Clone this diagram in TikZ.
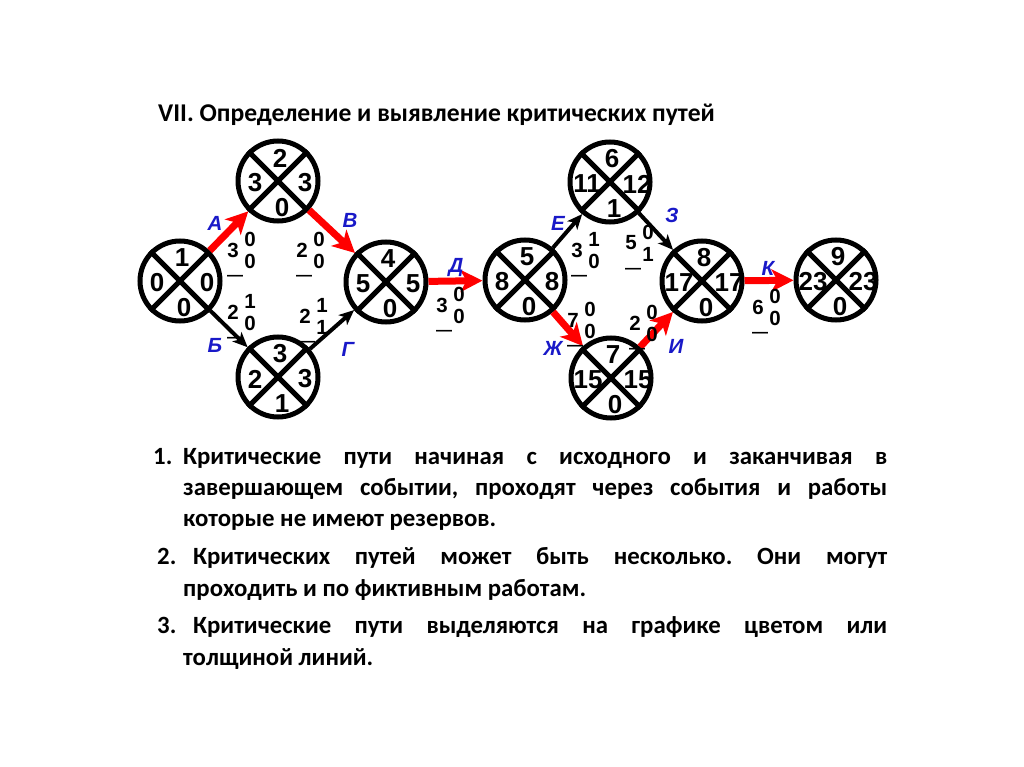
\documentclass[tikz,border=0pt]{standalone}
\usepackage{fontspec}
\setmainfont{Carlito}
\newfontfamily\arialfont{Liberation Sans}
\usetikzlibrary{arrows.meta}
\frenchspacing

\definecolor{azul}{RGB}{25,25,200}
\definecolor{rojo}{RGB}{255,0,0}

\tikzset{
  evento/.style={circle, draw, line width=5pt, minimum size=80pt, inner sep=0pt},
  cifra/.style={font=\arialfont\bfseries\fontsize{26}{26}\selectfont, inner sep=0pt},
  dur/.style={font=\arialfont\bfseries\fontsize{20.5}{20.5}\selectfont, inner sep=0pt},
  guion/.style={font=\arialfont\bfseries\fontsize{16}{16}\selectfont, inner sep=0pt, anchor=base},
  etiq/.style={font=\arialfont\bfseries\itshape\fontsize{20.5}{20.5}\selectfont, text=azul, inner sep=0pt},
  critico/.style={draw=rojo, line width=7pt, -{Stealth[length=22pt,width=22pt,inset=6pt]}},
  normal/.style={draw, line width=4pt, -{Stealth[length=15pt,width=13pt,inset=4pt]}},
  linea/.style={font=\bfseries\fontsize{24.8}{24.8}\selectfont, anchor=base west, inner sep=0pt}
}

% suceso: nombre, x, y, arriba, izquierda, derecha, abajo
\newcommand{\suceso}[7]{%
  \node[evento] (#1) at (#2,#3) {};
  \draw[line width=5pt] (#1.north east) -- (#1.south west);
  \draw[line width=5pt] (#1.north west) -- (#1.south east);
  \node[cifra] (#1s) at (#2+2,#3-23) {#4};
  \node[cifra] (#1i) at (#2-23,#3+2) {#5};
  \node[cifra] (#1d) at (#2+27,#3+2) {#6};
  \node[cifra] (#1b) at (#2+4,#3+27) {#7};
}

% trabajo: nombre, x, y, duracion, reserva 1, reserva 2
\newcommand{\trabajo}[6]{%
  \node[dur] (t#1) at (#2,#3) {#4};
  \node[dur] (r#1a) at (#2+17,#3-11) {#5};
  \node[dur] (r#1b) at (#2+17,#3+11) {#6};
  \node[guion] (g#1) at (#2+2,#3+30) {—};
}

\begin{document}
\begin{tikzpicture}[x=1pt, y=-1pt]
    \fill[white] (0,0) rectangle (1024,767);
    \useasboundingbox (0,0) rectangle (1024,767);

    % Titulo
    \node[linea, font=\bfseries\fontsize{25.6}{25.6}\selectfont] (titulo) at (158,122) {VII. Определение и выявление критических путей};

    % Sucesos
    \suceso{n1}{180}{281}{1}{0}{0}{0}
    \suceso{n2}{278}{181}{2}{3}{3}{0}
    \suceso{n3}{278}{377}{3}{2}{3}{1}
    \suceso{n4}{386}{282}{4}{5}{5}{0}
    \suceso{n5}{525}{280}{5}{8}{8}{0}
    \suceso{n6}{610}{182}{6}{11}{12}{1}
    \suceso{n7}{611}{378}{7}{15}{15}{0}
    \suceso{n8}{702}{281}{8}{17}{17}{0}
    \suceso{n9}{836}{280}{9}{23}{23}{0}

    % Trabajos criticos
    \draw[critico] (n1) -- (n2);
    \draw[critico] (n2) -- (n4);
    \draw[critico] (n4) -- (n5);
    \draw[critico] (n5) -- (n7);
    \draw[critico] (n7) -- (n8);
    \draw[critico] (n8) -- (n9);

    % Trabajos no criticos
    \draw[normal] (n1) -- (n3);
    \draw[normal] (n3) -- (n4);
    \draw[normal] (n5) -- (n6);
    \draw[normal] (n6) -- (n8);

    % Letras de los trabajos
    \node[etiq] (la) at (215,223) {А};
    \node[etiq] (lv) at (350,220) {В};
    \node[etiq] (lb) at (215,345) {Б};
    \node[etiq] (lg) at (348,349) {Г};
    \node[etiq] (ld) at (456,267) {Д};
    \node[etiq] (le) at (558,223) {Е};
    \node[etiq] (lz) at (672,215) {З};
    \node[etiq] (lzh) at (553,348) {Ж};
    \node[etiq] (li) at (676,346) {И};
    \node[etiq] (lk) at (768,268) {К};

    % Duraciones y reservas
    \trabajo{a}{233}{250}{3}{0}{0}
    \trabajo{v}{302}{250}{2}{0}{0}
    \trabajo{b}{233}{312}{2}{1}{0}
    \trabajo{g}{305}{316}{2}{1}{1}
    \trabajo{d}{442}{305}{3}{0}{0}
    \trabajo{e}{577}{250}{3}{1}{0}
    \trabajo{z}{631}{243}{5}{0}{1}
    \trabajo{zh}{573}{320}{7}{0}{0}
    \trabajo{i}{635}{323}{2}{0}{0}
    \trabajo{k}{758}{307}{6}{0}{0}

    % Texto
    \node[linea] (p1n) at (153,464) {1.};
    \node[linea] (p1a) at (183,464) {\makebox[704pt][s]{Критические пути начиная с исходного и заканчивая в}};
    \node[linea] (p1b) at (183,495) {\makebox[704pt][s]{завершающем событии, проходят через события и работы}};
    \node[linea] (p1c) at (183,526) {которые не имеют резервов.};
    \node[linea] (p2n) at (157,564) {2.};
    \node[linea] (p2a) at (193,564) {\makebox[694pt][s]{Критических путей может быть несколько. Они могут}};
    \node[linea] (p2b) at (183,596) {проходить и по фиктивным работам.};
    \node[linea] (p3n) at (157,633) {3.};
    \node[linea] (p3a) at (193,633) {\makebox[694pt][s]{Критические пути выделяются на графике цветом или}};
    \node[linea] (p3b) at (183,665) {толщиной линий.};
\end{tikzpicture}
\end{document}
